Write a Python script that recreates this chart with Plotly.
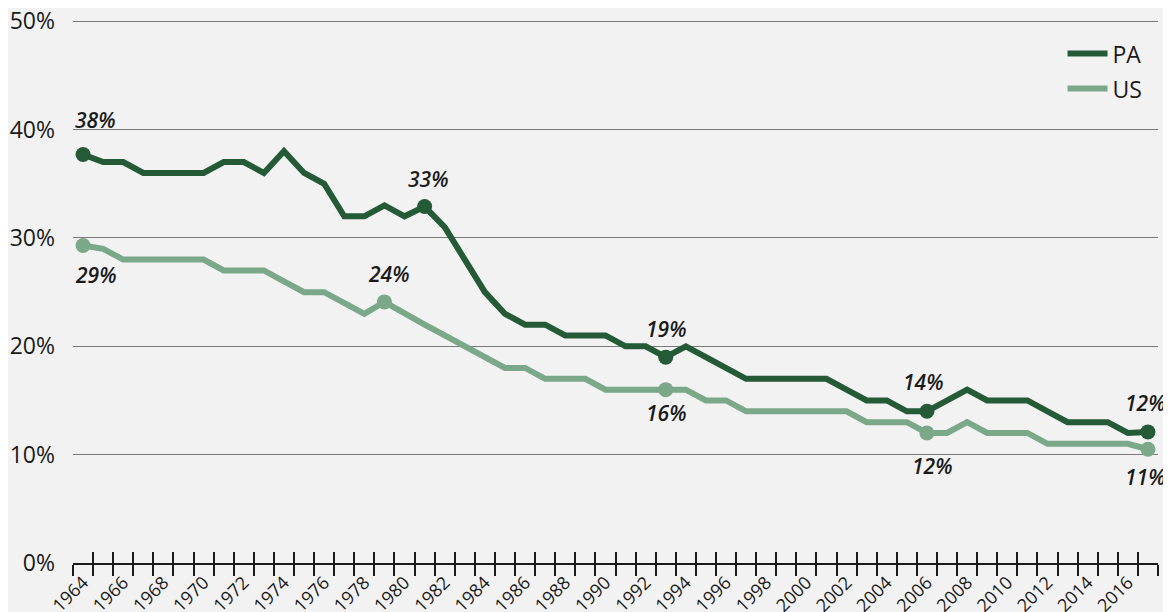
import plotly.graph_objects as go

years = list(range(1964, 2018))
pa = [37.7, 37, 37, 36, 36, 36, 36, 37, 37, 36,
      38, 36, 35, 32, 32, 33, 32, 32.9, 31, 28,
      25, 23, 22, 22, 21, 21, 21, 20, 20, 19,
      20, 19, 18, 17, 17, 17, 17, 17, 16, 15,
      15, 14, 14, 15, 16, 15, 15, 15, 14, 13,
      13, 13, 12, 12.1]
us = [29.3, 29, 28, 28, 28, 28, 28, 27, 27, 27,
      26, 25, 25, 24, 23, 24.1, 23, 22, 21, 20,
      19, 18, 18, 17, 17, 17, 16, 16, 16, 16,
      16, 15, 15, 14, 14, 14, 14, 14, 14, 13,
      13, 13, 12, 12, 13, 12, 12, 12, 11, 11,
      11, 11, 11, 10.5]

pa_hl_years = [1964, 1981, 1993, 2006, 2017]
pa_hl_labels = ["38%", "33%", "19%", "14%", "12%"]
us_hl_years = [1964, 1979, 1993, 2006, 2017]
us_hl_labels = ["29%", "24%", "16%", "12%", "11%"]

label_years = [y for y in years if y % 2 == 0]
y_ticks = [0, 10, 20, 30, 40, 50]
y_tick_labels = ["0%", "10%", "20%", "30%", "40%", "50%"]

PA_COLOR = "#255a37"
US_COLOR = "#7aa888"
BG = "#f2f2f2"
FONT = "Open Sans"
TXT = "#1a1a1a"

fig = go.Figure()
fig.add_trace(go.Scatter(x=years, y=us, mode="lines", name="US", legendgroup="us",
                         legendrank=2,
                         line=dict(color=US_COLOR, width=6), showlegend=True))
fig.add_trace(go.Scatter(x=years, y=pa, mode="lines", name="PA", legendgroup="pa",
                         legendrank=1,
                         line=dict(color=PA_COLOR, width=6), showlegend=True))

pa_hl_y = [pa[years.index(y)] for y in pa_hl_years]
us_hl_y = [us[years.index(y)] for y in us_hl_years]
fig.add_trace(go.Scatter(x=us_hl_years, y=us_hl_y, mode="markers", xaxis="x2",
                         marker=dict(color=US_COLOR, size=15), showlegend=False,
                         cliponaxis=False))
fig.add_trace(go.Scatter(x=pa_hl_years, y=pa_hl_y, mode="markers", xaxis="x2",
                         marker=dict(color=PA_COLOR, size=15), showlegend=False,
                         cliponaxis=False))

pa_shifts = [(12, 35), (3, 28), (0, 28), (-4, 29), (-3, 29)]
us_shifts = [(12, -29), (4, 28), (0, -23), (5, -33), (-3, -28)]
ann_font = dict(family=FONT, size=21, color=TXT, weight=600, style="italic")
for yr, val, txt, (dx, dy) in zip(pa_hl_years, pa_hl_y, pa_hl_labels, pa_shifts):
    fig.add_annotation(x=yr, y=val, text=txt, showarrow=False,
                       xshift=dx, yshift=dy, xanchor="center", yanchor="middle",
                       font=ann_font)
for yr, val, txt, (dx, dy) in zip(us_hl_years, us_hl_y, us_hl_labels, us_shifts):
    fig.add_annotation(x=yr, y=val, text=txt, showarrow=False,
                       xshift=dx, yshift=dy, xanchor="center", yanchor="middle",
                       font=ann_font)

boundaries = [y - 0.5 for y in years] + [years[-1] + 0.5]
xrange = [years[0] - 0.5, years[-1] + 0.5]

fig.update_layout(
    width=1171, height=612,
    paper_bgcolor=BG, plot_bgcolor=BG,
    margin=dict(l=65, r=21, t=10, b=57),
    font=dict(family=FONT, color=TXT),
    showlegend=True,
    legend=dict(x=0.912, y=0.974, xanchor="left", yanchor="top",
                bgcolor="rgba(0,0,0,0)", traceorder="grouped",
                tracegroupgap=2,
                font=dict(family=FONT, size=23, color=TXT),
                itemwidth=40),
    xaxis=dict(range=xrange, tickmode="array", tickvals=label_years,
               ticktext=[str(y) for y in label_years], tickangle=-45,
               ticks="outside", ticklen=0, tickcolor="rgba(0,0,0,0)",
               tickfont=dict(family=FONT, size=18, color=TXT),
               ticklabeloverflow="allow",
               showgrid=False, zeroline=False, showline=True,
               linecolor=TXT, linewidth=2, automargin=False,
               minor=dict(tickmode="array", tickvals=boundaries, ticks="outside",
                          ticklen=11, tickwidth=2, tickcolor=TXT, showgrid=False)),
    xaxis2=dict(range=xrange, overlaying="x", anchor="y", side="bottom",
                tickmode="array", tickvals=boundaries, ticks="inside",
                ticklen=11, tickwidth=2, tickcolor=TXT,
                showticklabels=False, showgrid=False, zeroline=False,
                showline=False),
    yaxis=dict(range=[0, 50.3], tickmode="array", tickvals=y_ticks,
               ticktext=y_tick_labels,
               showgrid=True, gridcolor="#7a7a7a", gridwidth=1.3,
               zeroline=False, showline=False, ticks="",
               ticklabelstandoff=17, ticklabeloverflow="allow",
               tickfont=dict(family=FONT, size=23, color=TXT),
               automargin=False),
)

fig.write_html("out.html")
